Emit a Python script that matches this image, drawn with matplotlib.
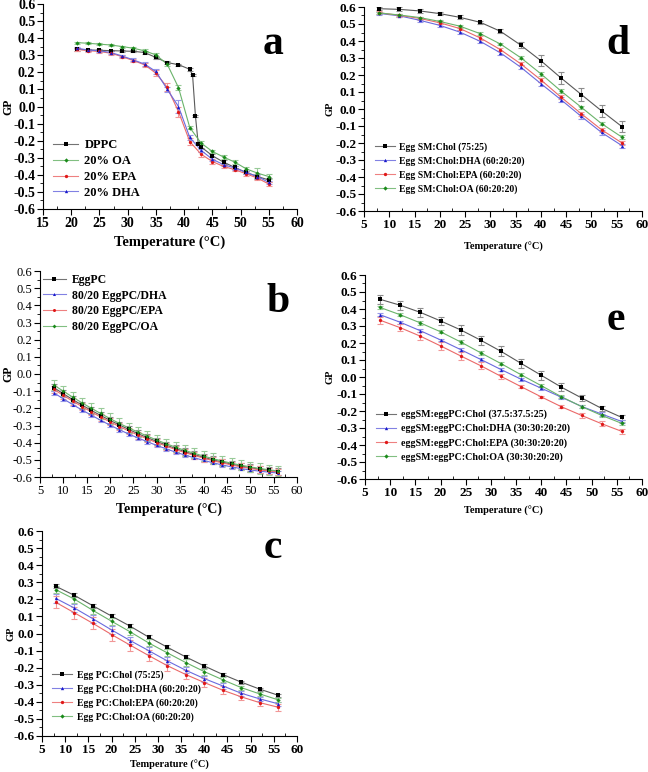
import matplotlib
matplotlib.use("Agg")
import matplotlib.pyplot as plt
from matplotlib.ticker import MultipleLocator, FormatStrFormatter
import matplotlib.colors as mcolors
import numpy as np

plt.rcParams['font.family'] = ['Liberation Serif', 'DejaVu Serif']

# ---------------- data ----------------
# panel a
a_x_dppc = [21, 23, 25, 27, 29, 31, 33, 35, 37, 39, 41, 41.5, 42, 42.5, 43, 45, 47, 49, 51, 53, 55]
a_dppc = [0.335, 0.331, 0.329, 0.327, 0.325, 0.323, 0.316, 0.287, 0.257, 0.245, 0.218, 0.183,
          -0.053, -0.218, -0.236, -0.288, -0.326, -0.357, -0.386, -0.41, -0.43]
a_dppc_err = [0.008, 0.006, 0.006, 0.005, 0.005, 0.006, 0.006, 0.008, 0.008, 0.006, 0.008, 0.006,
              0.006, 0.008, 0.008, 0.01, 0.01, 0.01, 0.01, 0.012, 0.012]
a_x = [21, 23, 25, 27, 29, 31, 33, 35, 37, 39, 41, 43, 45, 47, 49, 51, 53, 55]
a_oa = [0.374, 0.37, 0.365, 0.36, 0.351, 0.341, 0.326, 0.302, 0.248, 0.111, -0.123, -0.214,
        -0.263, -0.296, -0.326, -0.365, -0.39, -0.41]
a_oa_err = [0.006, 0.006, 0.006, 0.006, 0.006, 0.008, 0.008, 0.01, 0.012, 0.015, 0.01, 0.01,
            0.01, 0.012, 0.01, 0.01, 0.03, 0.015]
a_epa = [0.335, 0.327, 0.322, 0.312, 0.292, 0.269, 0.244, 0.195, 0.113, -0.03, -0.205, -0.279,
         -0.322, -0.351, -0.37, -0.394, -0.419, -0.454]
a_epa_err = [0.008, 0.008, 0.01, 0.012, 0.01, 0.01, 0.012, 0.018, 0.025, 0.03, 0.02, 0.015,
             0.012, 0.01, 0.01, 0.01, 0.012, 0.012]
a_dha = [0.341, 0.331, 0.326, 0.316, 0.296, 0.273, 0.248, 0.205, 0.101, 0.0, -0.181, -0.257,
         -0.308, -0.341, -0.36, -0.386, -0.41, -0.444]
a_dha_err = [0.006, 0.006, 0.006, 0.008, 0.008, 0.008, 0.01, 0.012, 0.015, 0.04, 0.015, 0.01,
             0.01, 0.01, 0.01, 0.01, 0.01, 0.01]

# panel b
b_x = [8, 10, 12, 14, 16, 18, 20, 22, 24, 26, 28, 30, 32, 34, 36, 38, 40, 42, 44, 46, 48, 50, 52, 54, 56]
b_eggpc = [-0.08, -0.115, -0.149, -0.181, -0.212, -0.242, -0.27, -0.297, -0.323, -0.348, -0.371,
           -0.393, -0.414, -0.434, -0.452, -0.469, -0.485, -0.5, -0.513, -0.525, -0.536, -0.546,
           -0.555, -0.562, -0.569]
b_dha = [-0.11, -0.145, -0.178, -0.21, -0.24, -0.27, -0.298, -0.325, -0.35, -0.373, -0.395, -0.416,
         -0.436, -0.455, -0.472, -0.488, -0.503, -0.517, -0.53, -0.541, -0.551, -0.559, -0.566,
         -0.572, -0.577]
b_epa = [-0.09, -0.125, -0.158, -0.19, -0.221, -0.251, -0.279, -0.306, -0.332, -0.356, -0.378, -0.4,
         -0.42, -0.44, -0.458, -0.474, -0.49, -0.505, -0.518, -0.53, -0.541, -0.55, -0.558, -0.565,
         -0.571]
b_oa = [-0.065, -0.1, -0.135, -0.168, -0.2, -0.23, -0.26, -0.288, -0.314, -0.339, -0.362, -0.385,
        -0.406, -0.426, -0.445, -0.462, -0.478, -0.493, -0.507, -0.52, -0.531, -0.541, -0.55,
        -0.558, -0.565]
b_eggpc_err = [0.02] * 25
b_dha_err = [0.01] * 25
b_epa_err = [0.02] * 25
b_oa_err = [0.03] * 25

# panels c, d, e share temperatures
cde_x = [8, 12, 16, 20, 24, 28, 32, 36, 40, 44, 48, 52, 56]

c_chol = [0.276, 0.223, 0.162, 0.102, 0.043, -0.021, -0.08, -0.137, -0.19, -0.24, -0.285, -0.326, -0.362]
c_chol_err = [0.012, 0.012, 0.01, 0.012, 0.01, 0.01, 0.01, 0.01, 0.01, 0.008, 0.008, 0.008, 0.008]
c_dha = [0.205, 0.149, 0.086, 0.021, -0.041, -0.1, -0.16, -0.215, -0.264, -0.307, -0.35, -0.383, -0.412]
c_dha_err = [0.025, 0.025, 0.025, 0.022, 0.02, 0.02, 0.02, 0.018, 0.018, 0.015, 0.015, 0.012, 0.012]
c_epa = [0.182, 0.121, 0.059, -0.006, -0.068, -0.129, -0.188, -0.24, -0.287, -0.332, -0.371, -0.405, -0.432]
c_epa_err = [0.035, 0.035, 0.035, 0.035, 0.032, 0.032, 0.03, 0.028, 0.025, 0.025, 0.02, 0.02, 0.02]
c_oa = [0.256, 0.201, 0.135, 0.072, 0.01, -0.055, -0.113, -0.17, -0.223, -0.271, -0.317, -0.354, -0.389]
c_oa_err = [0.02, 0.02, 0.02, 0.02, 0.02, 0.02, 0.02, 0.02, 0.018, 0.015, 0.012, 0.012, 0.01]

d_chol = [0.59, 0.586, 0.577, 0.561, 0.539, 0.51, 0.457, 0.376, 0.284, 0.182, 0.085, -0.011, -0.103]
d_chol_err = [0.01, 0.012, 0.01, 0.01, 0.012, 0.008, 0.012, 0.02, 0.032, 0.035, 0.04, 0.035, 0.03]
d_dha = [0.562, 0.548, 0.522, 0.492, 0.452, 0.398, 0.33, 0.246, 0.149, 0.054, -0.044, -0.138, -0.215]
d_dha_err = [0.008, 0.008, 0.008, 0.008, 0.01, 0.01, 0.01, 0.01, 0.012, 0.015, 0.015, 0.015, 0.012]
d_epa = [0.566, 0.551, 0.533, 0.507, 0.473, 0.418, 0.349, 0.266, 0.171, 0.069, -0.028, -0.122, -0.199]
d_epa_err = [0.008, 0.008, 0.008, 0.008, 0.01, 0.01, 0.01, 0.01, 0.01, 0.012, 0.012, 0.012, 0.012]
d_oa = [0.565, 0.553, 0.538, 0.515, 0.487, 0.443, 0.382, 0.302, 0.207, 0.105, 0.01, -0.086, -0.165]
d_oa_err = [0.006, 0.006, 0.006, 0.006, 0.008, 0.008, 0.008, 0.01, 0.01, 0.01, 0.01, 0.01, 0.01]

e_chol = [0.457, 0.422, 0.38, 0.33, 0.277, 0.216, 0.151, 0.08, 0.01, -0.06, -0.123, -0.185, -0.238]
e_chol_err = [0.025, 0.025, 0.025, 0.025, 0.028, 0.028, 0.03, 0.025, 0.025, 0.025, 0.02, 0.015, 0.015]
e_dha = [0.366, 0.322, 0.272, 0.218, 0.161, 0.103, 0.044, -0.013, -0.066, -0.119, -0.173, -0.218, -0.262]
e_dha_err = [0.008, 0.008, 0.008, 0.008, 0.008, 0.008, 0.008, 0.008, 0.008, 0.008, 0.008, 0.01, 0.01]
e_epa = [0.334, 0.29, 0.24, 0.183, 0.124, 0.066, 0.004, -0.057, -0.117, -0.175, -0.226, -0.275, -0.32]
e_epa_err = [0.02, 0.02, 0.025, 0.025, 0.022, 0.02, 0.015, 0.008, 0.008, 0.008, 0.015, 0.015, 0.015]
e_oa = [0.409, 0.366, 0.318, 0.266, 0.206, 0.142, 0.079, 0.013, -0.051, -0.116, -0.174, -0.226, -0.273]
e_oa_err = [0.01, 0.01, 0.01, 0.01, 0.01, 0.01, 0.01, 0.01, 0.01, 0.01, 0.01, 0.01, 0.01]

# ---------------- styling helpers ----------------
W, H = 648, 772
fig = plt.figure(figsize=(W / 100, H / 100), dpi=100)

BLACK = '#000000'
BLUE = '#1a1acc'
RED = '#e01818'
GREEN = '#1a8a1a'


def light(c, f=0.55):
    r, g, b = mcolors.to_rgb(c)
    return (r + (1 - r) * f, g + (1 - g) * f, b + (1 - b) * f)


def add_ax(left, right, top, bottom):
    ax = fig.add_axes([left / W, (H - bottom) / H, (right - left) / W, (bottom - top) / H])
    ax._px = (left, right)
    return ax


def style_ax(ax, xmin, xmax, tick_fs, bold, xlabel_fs, ylabel_fs, gp_x, xlabelpad=4):
    ax.set_xlim(xmin, xmax)
    ax.set_ylim(-0.6, 0.6)
    ax.spines['top'].set_visible(False)
    ax.spines['right'].set_visible(False)
    ax.xaxis.set_major_locator(MultipleLocator(5))
    ax.xaxis.set_minor_locator(MultipleLocator(2.5))
    ax.yaxis.set_major_locator(MultipleLocator(0.1))
    ax.yaxis.set_minor_locator(MultipleLocator(0.05))
    ax.yaxis.set_major_formatter(FormatStrFormatter('%.1f'))
    ax.tick_params(which='major', direction='out', length=4, width=0.8, labelsize=tick_fs, pad=1.5)
    ax.tick_params(axis='y', which='minor', direction='out', length=2, width=0.6)
    ax.tick_params(axis='x', which='minor', direction='in', length=2.5, width=0.6)
    w = 'bold' if bold else 'normal'
    for lab in ax.get_xticklabels() + ax.get_yticklabels():
        lab.set_fontweight(w)
    ax.set_xlabel('Temperature (°C)', fontsize=xlabel_fs, fontweight='bold', labelpad=xlabelpad)
    ax.set_ylabel('GP', fontsize=ylabel_fs, fontweight='bold')
    left, right = ax._px
    ax.yaxis.set_label_coords((gp_x - left) / (right - left), 0.5)
    ax.yaxis.label.set_va('center')


def series(ax, x, y, err, color, marker, label, ms=2.4):
    ax.errorbar(x, y, yerr=err, color=color, ecolor=light(color), elinewidth=0.8,
                capsize=2, capthick=0.8, linestyle='none', zorder=1)
    ax.plot(x, y, color=light(color, 0.35), lw=0.8, zorder=2)
    ax.plot(x, y, linestyle='none', marker=marker, color=color, ms=ms, mew=0, zorder=3)
    ax.plot([], [], color=light(color, 0.45), lw=0.8, marker=marker, mfc=color, mec=color,
            mew=0, ms=ms, label=label)


def legend(ax, loc, fs, anchor, spacing=0.25):
    lg = ax.legend(loc=loc, frameon=False, fontsize=fs, handlelength=2.0, handletextpad=0.5,
                   labelspacing=spacing, borderaxespad=0.0, borderpad=0.0,
                   bbox_to_anchor=anchor)
    for t in lg.get_texts():
        t.set_fontweight('bold')
    return lg


def letter(x, y, s):
    fig.text(x / W, 1 - y / H, s, fontsize=30, fontweight='bold', ha='center', va='center')


# ---------------- panel a ----------------
ax = add_ax(43, 297, 4, 209)
series(ax, a_x_dppc, a_dppc, a_dppc_err, BLACK, 's', 'DPPC')
series(ax, a_x, a_oa, a_oa_err, GREEN, 'D', '20% OA', ms=2.2)
series(ax, a_x, a_epa, a_epa_err, RED, 'o', '20% EPA')
series(ax, a_x, a_dha, a_dha_err, BLUE, '^', '20% DHA')
style_ax(ax, 15, 60, 10, True, 10.5, 8.5, gp_x=8)
legend(ax, 'lower left', 9, (0.04, 0.05), spacing=0.3)
letter(273, 44, 'a')

# ---------------- panel b ----------------
ax = add_ax(40, 297, 271, 477)
series(ax, b_x, b_eggpc, b_eggpc_err, BLACK, 's', 'EggPC', ms=2.2)
series(ax, b_x, b_dha, b_dha_err, BLUE, '^', '80/20 EggPC/DHA', ms=2.2)
series(ax, b_x, b_epa, b_epa_err, RED, 'o', '80/20 EggPC/EPA', ms=2.2)
series(ax, b_x, b_oa, b_oa_err, GREEN, 'D', '80/20 EggPC/OA', ms=2.0)
style_ax(ax, 5, 60, 9, False, 10, 8.5, gp_x=8)
legend(ax, 'upper left', 8.5, (0.01, 0.985), spacing=0.3)
letter(278, 302, 'b')

# ---------------- panel c ----------------
ax = add_ax(42, 297, 531, 736)
series(ax, cde_x, c_chol, c_chol_err, BLACK, 's', 'Egg PC:Chol (75:25)')
series(ax, cde_x, c_dha, c_dha_err, BLUE, '^', 'Egg PC:Chol:DHA (60:20:20)')
series(ax, cde_x, c_epa, c_epa_err, RED, 'o', 'Egg PC:Chol:EPA (60:20:20)')
series(ax, cde_x, c_oa, c_oa_err, GREEN, 'D', 'Egg PC:Chol:OA (60:20:20)', ms=2.2)
style_ax(ax, 5, 60, 9.5, True, 7.5, 7.5, gp_x=11, xlabelpad=3)
legend(ax, 'lower left', 7, (0.04, 0.07), spacing=0.45)
letter(273, 548, 'c')

# ---------------- panel d ----------------
ax = add_ax(364, 642, 7, 211)
series(ax, cde_x, d_chol, d_chol_err, BLACK, 's', 'Egg SM:Chol (75:25)')
series(ax, cde_x, d_dha, d_dha_err, BLUE, '^', 'Egg SM:Chol:DHA (60:20:20)')
series(ax, cde_x, d_epa, d_epa_err, RED, 'o', 'Egg SM:Chol:EPA (60:20:20)')
series(ax, cde_x, d_oa, d_oa_err, GREEN, 'D', 'Egg SM:Chol:OA (60:20:20)', ms=2.2)
style_ax(ax, 5, 60, 9.5, True, 7.5, 7.5, gp_x=330, xlabelpad=8)
legend(ax, 'lower left', 7, (0.04, 0.085), spacing=0.45)
letter(618, 44, 'd')

# ---------------- panel e ----------------
ax = add_ax(365, 642, 275, 479)
series(ax, cde_x, e_chol, e_chol_err, BLACK, 's', 'eggSM:eggPC:Chol (37.5:37.5:25)')
series(ax, cde_x, e_dha, e_dha_err, BLUE, '^', 'eggSM:eggPC:Chol:DHA (30:30:20:20)')
series(ax, cde_x, e_epa, e_epa_err, RED, 'o', 'eggSM:eggPC:Chol:EPA (30:30:20:20)')
series(ax, cde_x, e_oa, e_oa_err, GREEN, 'D', 'eggSM:eggPC:Chol:OA (30:30:20:20)', ms=2.2)
style_ax(ax, 5, 60, 9.5, True, 7.5, 7.5, gp_x=330, xlabelpad=5)
legend(ax, 'lower left', 7.2, (0.04, 0.085), spacing=0.45)
letter(616, 320, 'e')

fig.savefig('out.png', dpi=100)
